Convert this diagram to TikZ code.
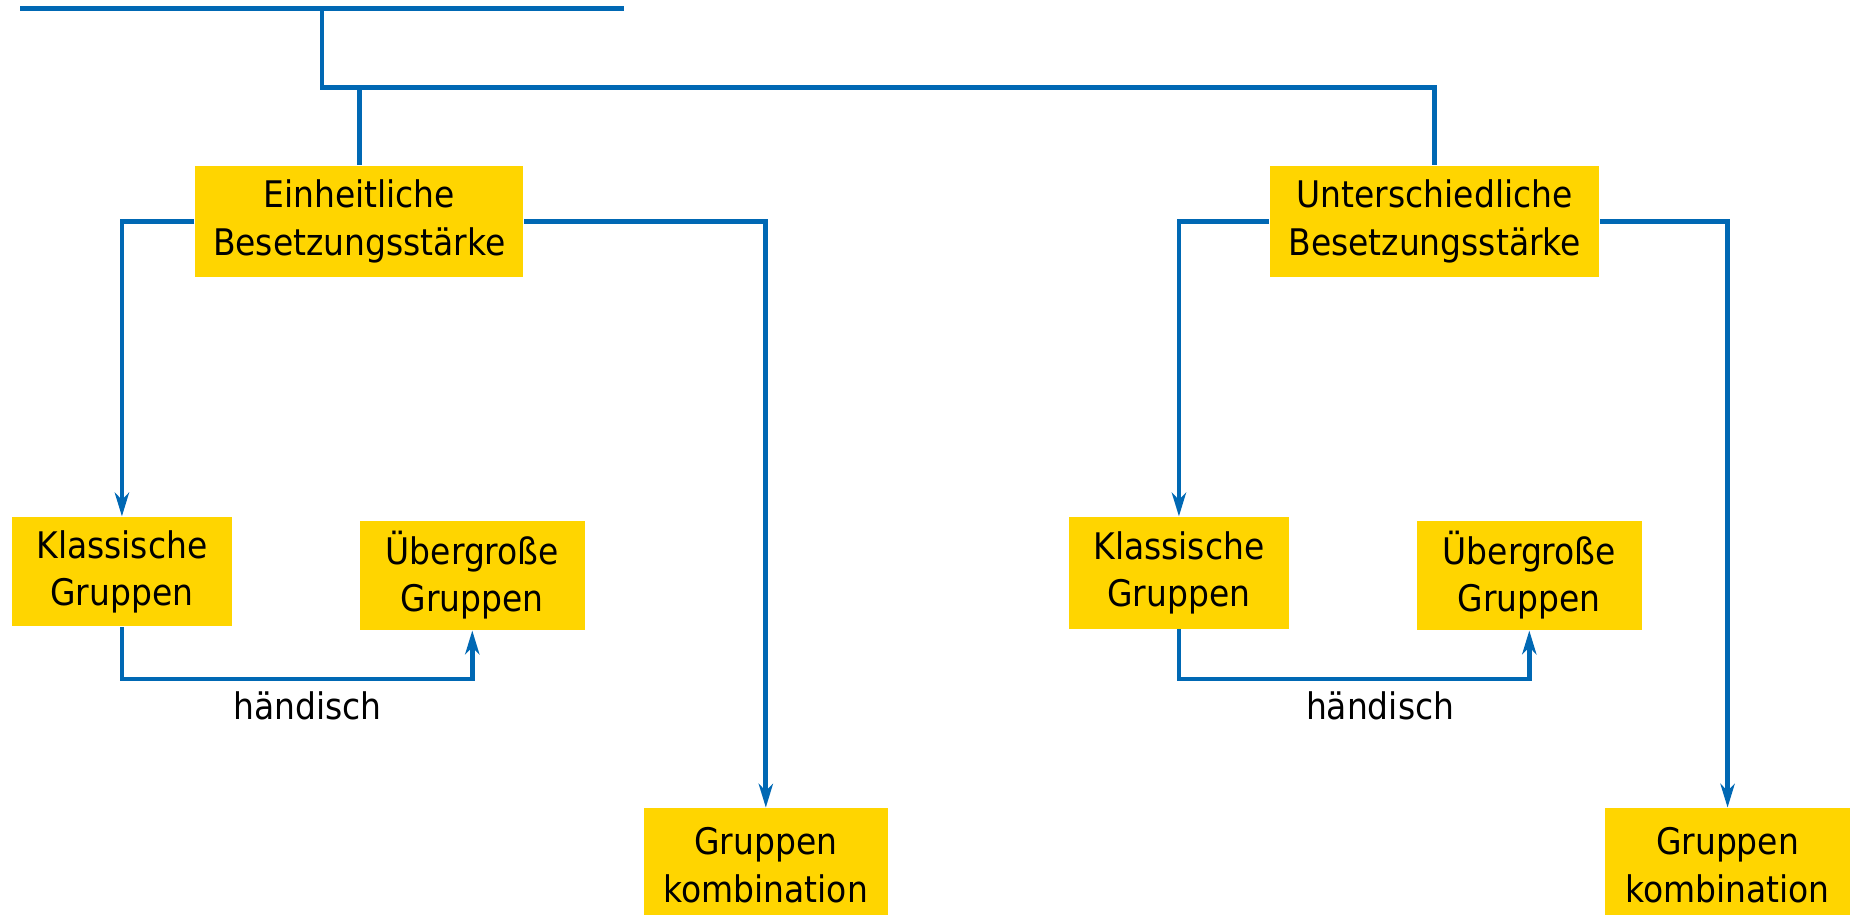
\documentclass[tikz,border=0pt]{standalone}
\usepackage{fontspec}
\setmainfont{DejaVu Sans Condensed}
\usetikzlibrary{arrows.meta}
\definecolor{lineblue}{RGB}{0,104,180}
\definecolor{boxyellow}{RGB}{255,213,0}
\begin{document}
\begin{tikzpicture}[x=0.01cm,y=-0.01cm,
  box/.style={fill=boxyellow, inner sep=0pt, align=center, font=\fontsize{8.8}{11.4}\selectfont},
  lbl/.style={inner sep=0pt, font=\fontsize{8.8}{11.4}\selectfont},
  conn/.style={draw=lineblue, line width=0.04cm},
  arr/.style={conn, -{Stealth[length=0.2cm,width=0.12cm,inset=0.06cm]}}]
\useasboundingbox (0,0) rectangle (1568,773);
% top structure
\coordinate (tl) at (17,7);
\coordinate (tr) at (527,7);
\coordinate (tj) at (272,7);
\coordinate (hj) at (272,74);
% boxes
\node[box, minimum width=2.77cm, minimum height=0.94cm] (e) at (303.5,187) {Einheitliche\\Besetzungsstärke};
\node[box, minimum width=2.78cm, minimum height=0.94cm] (u) at (1212,187) {Unterschiedliche\\Besetzungsstärke};
\node[box, minimum width=1.86cm, minimum height=0.92cm] (kl) at (103,483) {Klassische\\Gruppen};
\node[box, minimum width=1.90cm, minimum height=0.92cm] (ul) at (399,486) {Übergroße\\Gruppen};
\node[box, minimum width=2.06cm, minimum height=0.96cm] (gl) at (647,731) {Gruppen\\kombination};
\node[box, minimum width=1.86cm, minimum height=0.94cm] (kr) at (996,484) {Klassische\\Gruppen};
\node[box, minimum width=1.90cm, minimum height=0.92cm] (ur) at (1292,486) {Übergroße\\Gruppen};
\node[box, minimum width=2.07cm, minimum height=0.96cm] (gr) at (1459.5,731) {Gruppen\\kombination};
\node[lbl] (hl) at (260,596) {händisch};
\node[lbl] (hr) at (1166,596) {händisch};
% connectors
\draw[conn] (tl) -- (tr);
\draw[conn] (tj) -- (hj) -| (u.north);
\draw[conn] (e.north) -- (e.north |- hj);
\draw[arr] (e.west) -| (kl.north);
\draw[arr] (e.east) -| (gl.north);
\draw[arr] (u.west) -| (kr.north);
\draw[arr] (u.east) -| (gr.north);
\draw[arr] (kl.south) -- ++(0,44) -| (ul.south);
\draw[arr] (kr.south) -- ++(0,42) -| (ur.south);
\end{tikzpicture}
\end{document}
